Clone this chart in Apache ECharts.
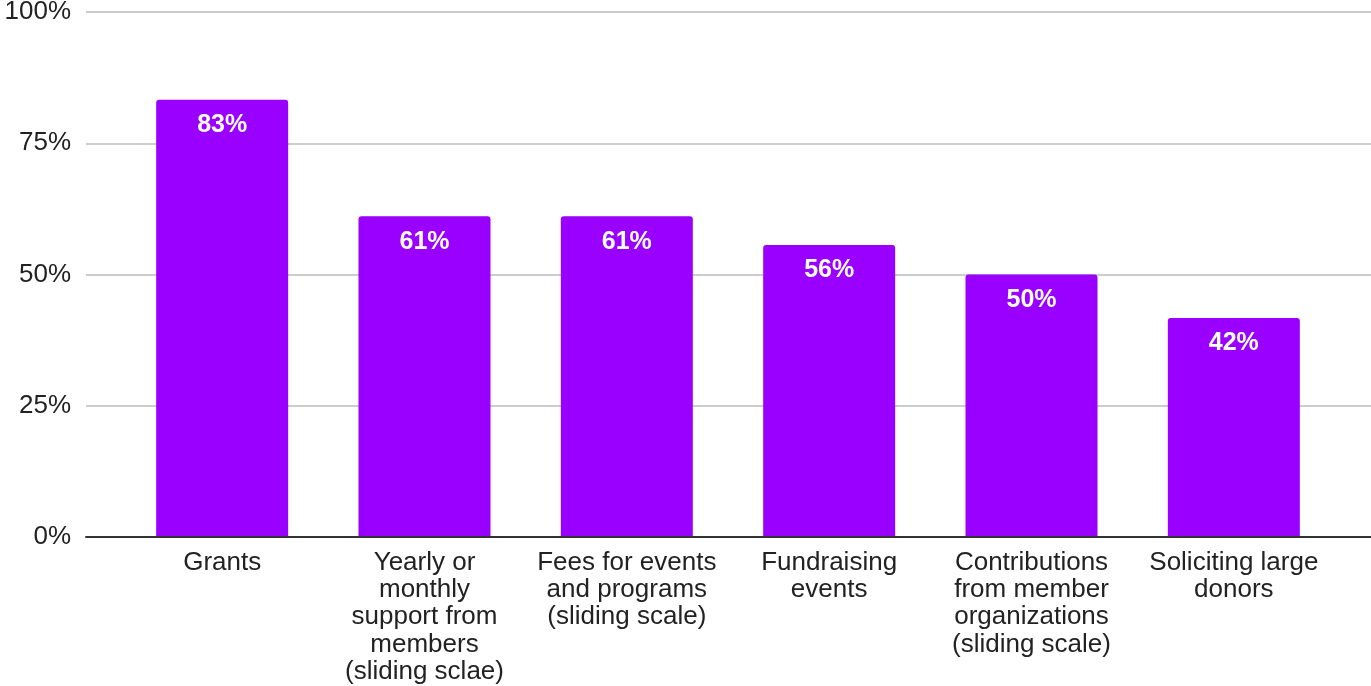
<!DOCTYPE html>
<html>
<head>
<meta charset="utf-8">
<script src="https://cdn.jsdelivr.net/npm/echarts@6/dist/echarts.min.js"></script>
<style>
html,body{margin:0;padding:0;background:#fff;}
#chart{width:1371px;height:686px;}
</style>
</head>
<body>
<div id="chart"></div>
<script>
const categories = [
  "Grants",
  "Yearly or\nmonthly\nsupport from\nmembers\n(sliding sclae)",
  "Fees for events\nand programs\n(sliding scale)",
  "Fundraising\nevents",
  "Contributions\nfrom member\norganizations\n(sliding scale)",
  "Soliciting large\ndonors"
];
const values = [83.3, 61.1, 61.1, 55.6, 50.0, 41.7];
const yTicks = [0, 25, 50, 75, 100];

const font = "'Liberation Sans', Arial, sans-serif";
const chart = echarts.init(document.getElementById('chart'));
chart.setOption({
  animation: false,
  backgroundColor: '#fff',
  grid: [
    { left: 86, right: 0, top: 12, bottom: 149, outerBoundsMode: 'none', containLabel: false },
    { left: 121, right: 36, top: 12, bottom: 149, outerBoundsMode: 'none', containLabel: false }
  ],
  xAxis: [
    {
      gridIndex: 0, type: 'value', min: 0, max: 1, z: 5,
      axisLine: { show: true, lineStyle: { color: '#333', width: 2 } },
      axisTick: { show: false }, axisLabel: { show: false }, splitLine: { show: false }
    },
    {
      gridIndex: 1, type: 'category', data: categories,
      axisLine: { show: false }, axisTick: { show: false },
      axisLabel: {
        interval: 0, margin: 12, color: '#222', fontFamily: font,
        fontSize: 26, lineHeight: 27.3, align: 'center', verticalAlign: 'top'
      }
    }
  ],
  yAxis: [
    {
      gridIndex: 0, type: 'value', min: yTicks[0], max: yTicks[yTicks.length - 1], interval: 25,
      axisLine: { show: false }, axisTick: { show: false },
      axisLabel: { formatter: '{value}%', color: '#222', fontFamily: font, fontSize: 26, margin: 15 },
      splitLine: { lineStyle: { color: '#cccccc', width: 2 } }
    },
    {
      gridIndex: 1, type: 'value', min: 0, max: 100, show: false,
      splitLine: { show: false }
    }
  ],
  series: [{
    type: 'bar', xAxisIndex: 1, yAxisIndex: 1, data: values,
    barWidth: 132,
    itemStyle: { color: '#9900ff', borderRadius: [3, 3, 0, 0] },
    label: {
      show: true, position: 'insideTop', distance: 13,
      formatter: p => Math.round(p.value) + '%',
      color: '#fff', fontFamily: font, fontWeight: 'bold', fontSize: 25
    }
  }]
});
</script>
</body>
</html>
